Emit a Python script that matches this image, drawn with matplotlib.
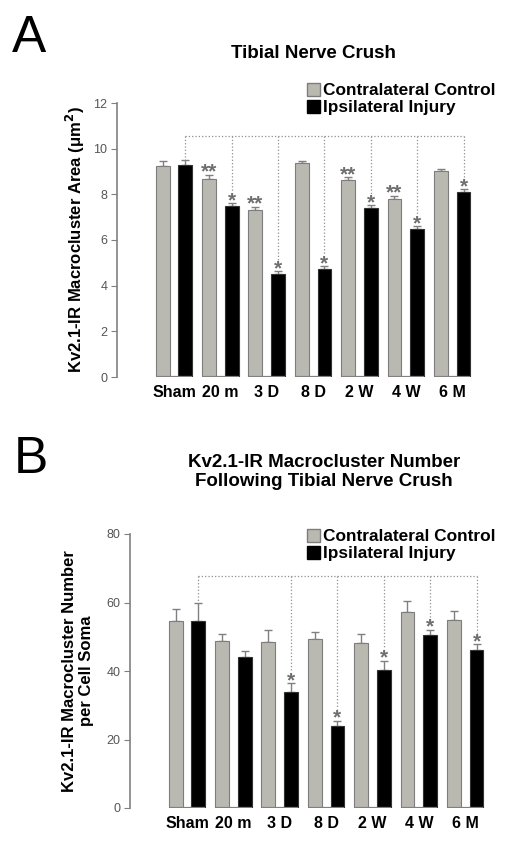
import numpy as np
import matplotlib
matplotlib.use("Agg")
import matplotlib.pyplot as plt
from matplotlib.patches import Patch

plt.rcParams['font.family'] = ['Liberation Sans', 'DejaVu Sans']

# ---------------- data ----------------
groups = ['Sham', '20 m', '3 D', '8 D', '2 W', '4 W', '6 M']
series = ['Contralateral Control', 'Ipsilateral Injury']

# panel A: macrocluster area (um^2)
areaCtrl = [9.23, 8.69, 7.30, 9.36, 8.63, 7.81, 9.01]
areaCtrlSem = [0.24, 0.17, 0.15, 0.11, 0.13, 0.13, 0.10]
areaInj = [9.28, 7.47, 4.53, 4.73, 7.42, 6.48, 8.10]
areaInjSem = [0.22, 0.15, 0.10, 0.12, 0.11, 0.12, 0.13]
areaCtrlStars = ['', '**', '**', '', '**', '**', '']
areaInjStars = ['', '*', '*', '*', '*', '*', '*']
areaLinked = [1, 1, 1, 1, 1, 1, 1]
areaBracket = 10.54

# panel B: macrocluster number per cell soma
numCtrl = [54.7, 48.9, 48.6, 49.4, 48.1, 57.3, 54.8]
numCtrlSem = [3.5, 1.8, 3.4, 2.1, 2.6, 3.1, 2.7]
numInj = [54.7, 44.1, 34.0, 23.9, 40.3, 50.4, 46.0]
numInjSem = [5.2, 1.8, 2.4, 1.6, 2.7, 1.6, 1.8]
numCtrlStars = ['', '', '', '', '', '', '']
numInjStars = ['', '', '*', '*', '*', '*', '*']
numLinked = [1, 0, 1, 1, 1, 1, 1]
numBracket = 67.8

# ---------------- style ----------------
GRAY = '#bab9b1'
EDGE = '#7d7d7d'
AXC = '#808080'
TXT = '#555555'
STARC = '#6e6e6e'

W, H = 512, 849
fig = plt.figure(figsize=(W / 100, H / 100), dpi=100)


def px_axes(left, right, top, bottom):
    return fig.add_axes([left / W, 1 - bottom / H, (right - left) / W, (bottom - top) / H])


def star(ax, x, y, s):
    # asterisks sit high in the font box, so pull them down onto the cap
    ax.annotate(s, (x, y), xytext=(0, -5), textcoords='offset points', color=STARC,
                ha='center', va='bottom', fontsize=15, fontweight='bold')


def draw_panel(ax, ctrl, ctrlSem, inj, injSem, ctrlStars, injStars, linked,
               bracket, ymax, ystep, starPad):
    x = np.arange(len(groups))
    off, bw = 0.245, 0.30
    ax.bar(x - off, ctrl, bw, color=GRAY, edgecolor=EDGE, linewidth=0.8, zorder=2)
    ax.bar(x + off, inj, bw, color='black', edgecolor='#333333', linewidth=0.8, zorder=2)
    ax.errorbar(x - off, ctrl, yerr=[np.zeros(len(x)), ctrlSem], fmt='none',
                ecolor=AXC, elinewidth=1.0, capsize=3, capthick=1.0, zorder=1)
    ax.errorbar(x + off, inj, yerr=[np.zeros(len(x)), injSem], fmt='none',
                ecolor=AXC, elinewidth=1.0, capsize=3, capthick=1.0, zorder=1)

    # baselines under each group
    ax.hlines(np.zeros(len(x)), x - off - bw / 2, x + off + bw / 2, color=AXC, lw=1.6, zorder=3)

    # significance stars
    for i in range(len(x)):
        if ctrlStars[i]:
            star(ax, x[i] - off, ctrl[i] + ctrlSem[i], ctrlStars[i])
        if injStars[i]:
            star(ax, x[i] + off, inj[i] + injSem[i], injStars[i])

    # dotted comparison bracket
    ax.plot([x[0] + off, x[-1] + off], [bracket, bracket], ls=':', color='#909090', lw=0.9)
    for i in range(len(x)):
        if linked[i]:
            end = inj[i] + injSem[i] + (starPad if injStars[i] else 0)
            ax.plot([x[i] + off, x[i] + off], [bracket, end], ls=':', color='#909090', lw=0.9)

    ax.set_xlim(-1.23, 6.6)
    ax.set_ylim(0, ymax)
    ax.set_yticks(np.arange(0, ymax + 1, ystep))
    ax.set_xticks(x)
    ax.set_xticklabels(groups, fontsize=11.5, fontweight='bold', color='black')
    ax.tick_params(axis='x', length=0, pad=6)
    ax.tick_params(axis='y', length=4, color=AXC, labelcolor=TXT, labelsize=9, pad=3)
    for s in ['top', 'right', 'bottom']:
        ax.spines[s].set_visible(False)
    ax.spines['left'].set_color(AXC)
    ax.spines['left'].set_linewidth(1.2)


handles = [Patch(facecolor=GRAY, edgecolor=EDGE, label=series[0]),
           Patch(facecolor='black', edgecolor='black', label=series[1])]
legend_kw = dict(loc='upper left', frameon=False, borderpad=0, handlelength=0.8,
                 handleheight=0.8, handletextpad=0.15, labelspacing=0.08,
                 prop={'weight': 'bold', 'size': 12.4})

# ---------------- panel A ----------------
axA = px_axes(117, 480, 103, 377)
draw_panel(axA, areaCtrl, areaCtrlSem, areaInj, areaInjSem, areaCtrlStars, areaInjStars,
           areaLinked, areaBracket, 12, 2, 0.5)
fig.text(12 / W, 1 - 38 / H, 'A', fontsize=37, va='center', ha='left')
fig.text(313 / W, 1 - 53 / H, 'Tibial Nerve Crush', fontsize=13.5, fontweight='bold',
         ha='center', va='center')
fig.text(75 / W, 1 - 240 / H, 'Kv2.1-IR Macrocluster Area (\u03bcm$^\\mathbf{2}$)',
         rotation=90, fontsize=12, fontweight='bold', ha='center', va='center')
fig.legend(handles=handles, bbox_to_anchor=(298 / W, 1 - 74 / H), **legend_kw)

# ---------------- panel B ----------------
axB = px_axes(130, 493, 534, 808)
draw_panel(axB, numCtrl, numCtrlSem, numInj, numInjSem, numCtrlStars, numInjStars,
           numLinked, numBracket, 80, 20, 3.3)
fig.text(14 / W, 1 - 460 / H, 'B', fontsize=37, va='center', ha='left')
fig.text(324 / W, 1 - 472 / H, 'Kv2.1-IR Macrocluster Number\nFollowing Tibial Nerve Crush',
         fontsize=13.5, fontweight='bold', ha='center', va='center', linespacing=1.15)
fig.text(78 / W, 1 - 671 / H, 'Kv2.1-IR Macrocluster Number\nper Cell Soma',
         rotation=90, fontsize=12, fontweight='bold', ha='center', va='center',
         multialignment='center', linespacing=1.2)
fig.legend(handles=handles, bbox_to_anchor=(298 / W, 1 - 520 / H), **legend_kw)

fig.savefig('out.png', dpi=100)
